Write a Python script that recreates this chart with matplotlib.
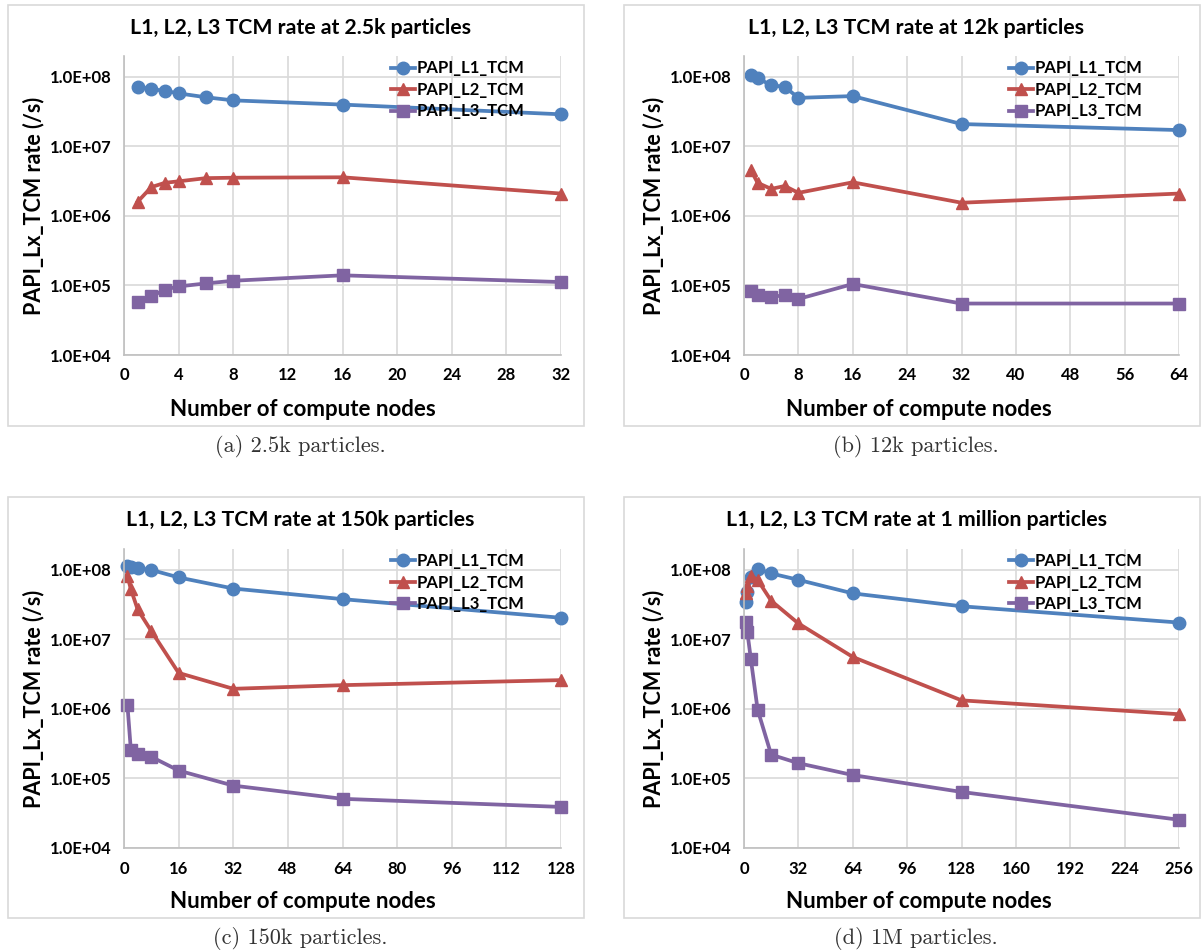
import matplotlib
matplotlib.use("Agg")
import matplotlib.pyplot as plt
from matplotlib.patches import Rectangle
from matplotlib.ticker import FixedLocator, FuncFormatter

# data
nodes_a = [1, 2, 3, 4, 6, 8, 16, 32]
l1_a = [7.2e7, 6.7e7, 6.3e7, 5.8e7, 5.1e7, 4.6e7, 4.0e7, 2.9e7]
l2_a = [1.6e6, 2.6e6, 3.0e6, 3.15e6, 3.5e6, 3.55e6, 3.6e6, 2.1e6]
l3_a = [5.75e4, 7.0e4, 8.7e4, 9.7e4, 1.07e5, 1.17e5, 1.4e5, 1.12e5]

nodes_b = [1, 2, 4, 6, 8, 16, 32, 64]
l1_b = [1.05e8, 9.6e7, 7.6e7, 7.2e7, 5.0e7, 5.3e7, 2.1e7, 1.72e7]
l2_b = [4.6e6, 3.0e6, 2.45e6, 2.7e6, 2.15e6, 3.05e6, 1.55e6, 2.1e6]
l3_b = [8.3e4, 7.4e4, 6.9e4, 7.2e4, 6.4e4, 1.05e5, 5.5e4, 5.5e4]

nodes_c = [1, 2, 4, 8, 16, 32, 64, 128]
l1_c = [1.15e8, 1.12e8, 1.06e8, 1.0e8, 7.8e7, 5.4e7, 3.8e7, 2.05e7]
l2_c = [8.2e7, 5.3e7, 2.7e7, 1.32e7, 3.3e6, 1.95e6, 2.2e6, 2.6e6]
l3_c = [1.15e6, 2.6e5, 2.27e5, 2.05e5, 1.3e5, 7.9e4, 5.1e4, 3.9e4]

nodes_d = [1, 2, 4, 8, 16, 32, 64, 128, 256]
l1_d = [3.5e7, 4.8e7, 8.0e7, 1.03e8, 8.9e7, 7.2e7, 4.6e7, 3.0e7, 1.75e7]
l2_d = [4.6e7, 5.8e7, 8.2e7, 7.2e7, 3.6e7, 1.7e7, 5.6e6, 1.33e6, 8.4e5]
l3_d = [1.8e7, 1.26e7, 5.3e6, 9.8e5, 2.2e5, 1.66e5, 1.12e5, 6.4e4, 2.55e4]

titles = ["L1, L2, L3 TCM rate at 2.5k particles",
          "L1, L2, L3 TCM rate at 12k particles",
          "L1, L2, L3 TCM rate at 150k particles",
          "L1, L2, L3 TCM rate at 1 million particles"]
captions = ["(a) 2.5k particles.", "(b) 12k particles.",
            "(c) 150k particles.", "(d) 1M particles."]
xmax = [32, 64, 128, 256]
xstep = [4, 8, 16, 32]
series_names = ["PAPI_L1_TCM", "PAPI_L2_TCM", "PAPI_L3_TCM"]

panels = [(nodes_a, l1_a, l2_a, l3_a), (nodes_b, l1_b, l2_b, l3_b),
          (nodes_c, l1_c, l2_c, l3_c), (nodes_d, l1_d, l2_d, l3_d)]

colors = ["#4F81BD", "#C0504D", "#8064A2"]
markers = ["o", "^", "s"]
msizes = [9, 9, 8.5]

W, H = 1202, 952
plt.rcParams['font.family'] = ['Lato', 'DejaVu Sans']
fig = plt.figure(figsize=(W / 100, H / 100), dpi=100)


def fx(px):
    return px / W


def fy(py):
    return 1 - py / H


# pixel layout per panel: box left, box top, plot x0, plot x1, vertical shift
layout = [(8, 5, 124, 561, 0), (624, 5, 744, 1179, 0),
          (8, 497, 124, 561, 493), (624, 497, 744, 1179, 493)]

for i, (nodes, l1, l2, l3) in enumerate(panels):
    bx, by, x0, x1, dy = layout[i]
    # outer chart border
    fig.patches.append(Rectangle((fx(bx), fy(by + 421)), fx(576), 421 / H,
                                 transform=fig.transFigure, fill=False,
                                 edgecolor="#D9D9D9", linewidth=1.2))
    ytop = 56 + dy
    ybot = 355 + dy
    ax = fig.add_axes([fx(x0), fy(ybot), fx(x1 - x0), (ybot - ytop) / H])
    ax.set_yscale("log")
    ax.set_ylim(1e4, 2.0e8)
    ax.set_xlim(0, xmax[i])
    ax.xaxis.set_major_locator(FixedLocator(range(0, xmax[i] + 1, xstep[i])))
    ax.yaxis.set_major_locator(FixedLocator([1e4, 1e5, 1e6, 1e7, 1e8]))
    ax.yaxis.set_minor_locator(FixedLocator([]))
    ax.yaxis.set_major_formatter(FuncFormatter(lambda v, p: f"{v:.1E}"))
    ax.grid(True, color="#D9D9D9", linewidth=1.2)
    ax.set_axisbelow(True)
    for s in ["top", "right"]:
        ax.spines[s].set_visible(False)
    for s in ["left", "bottom"]:
        ax.spines[s].set_color("#BFBFBF")
        ax.spines[s].set_linewidth(1.2)
    ax.tick_params(length=0, labelsize=12, pad=9)
    for lab in ax.get_xticklabels() + ax.get_yticklabels():
        lab.set_fontweight("bold")

    for vals, c, m, ms, name in zip((l1, l2, l3), colors, markers, msizes, series_names):
        ax.plot(nodes, vals, color=c, marker=m, markersize=ms, linewidth=2.7,
                label=name, clip_on=False)

    ax.legend(loc="upper left", bbox_to_anchor=(fx(x1 - 178), fy(ytop - 4)),
              bbox_transform=fig.transFigure, frameon=False,
              handlelength=1.4, handletextpad=0.1, labelspacing=0.33,
              borderpad=0, prop={"weight": "bold", "size": 12})

    ax.set_ylabel("PAPI_Lx_TCM rate (/s)", fontsize=15.5, fontweight="bold", labelpad=4)
    fig.text(fx(bx + 295), fy(by + 405), "Number of compute nodes", ha="center",
             va="center", fontsize=16, fontweight="bold")

    fig.text(fx(bx + 292), fy(by + 23), titles[i], ha="center", va="center",
             fontsize=15.3, fontweight="bold")
    fig.text(fx(bx + 292), fy(by + 441), captions[i], ha="center", va="center",
             fontsize=16, family="cmr10", color="#333333")

fig.savefig("out.png", dpi=100)
